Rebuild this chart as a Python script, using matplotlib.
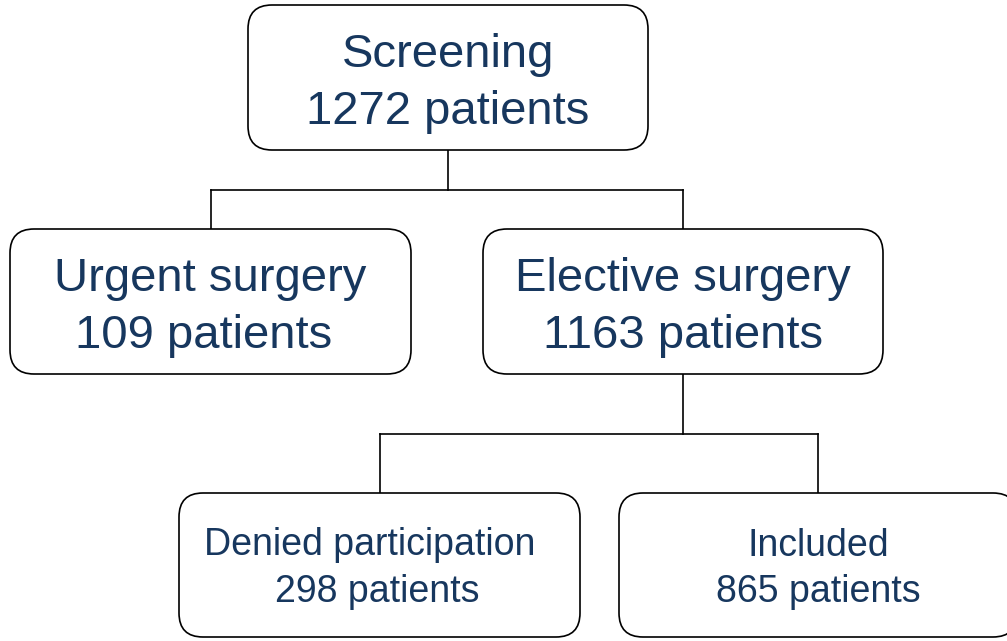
import matplotlib.pyplot as plt
from matplotlib.patches import FancyBboxPatch

plt.rcParams['font.family'] = ['Liberation Sans', 'DejaVu Sans']

# flowchart content
titles = ["Screening", "Urgent surgery", "Elective surgery", "Denied participation", "Included"]
counts = [1272, 109, 1163, 298, 865]
parents = [None, 0, 0, 2, 2]

# layout in pixel units (x0, y0, x1, y1), y down
boxes = [(248, 5, 648, 150), (10, 229, 411, 374), (483, 229, 883, 374),
         (179, 493, 580, 637), (619, 493, 1017, 637)]
fsize = [34, 34, 34, 27, 27]
base1 = [67, 291, 291, 555, 556]
base2 = [124, 348, 348, 602, 602]
dx1 = [0, 0, 0, -10, 0]
dx2 = [0, -7, 0, -2, 0]
txt_col = '#17375E'

fig = plt.figure(figsize=(10.07, 6.41), dpi=100)
ax = fig.add_axes([0, 0, 1, 1])
ax.set_xlim(0, 1007)
ax.set_ylim(641, 0)
ax.axis('off')

for i, (x0, y0, x1, y1) in enumerate(boxes):
    ax.add_patch(FancyBboxPatch((x0, y0), x1 - x0, y1 - y0,
                                boxstyle="round,pad=0,rounding_size=24",
                                fc='white', ec='black', lw=1.2, zorder=2))
    cx = (x0 + x1) / 2
    ax.text(cx + dx1[i], base1[i], titles[i], ha='center', va='baseline',
            fontsize=fsize[i], color=txt_col, zorder=3)
    ax.text(cx + dx2[i], base2[i], f"{counts[i]} patients", ha='center', va='baseline',
            fontsize=fsize[i], color=txt_col, zorder=3)

# connectors: parent bottom -> bar -> child tops
for p in set(q for q in parents if q is not None):
    kids = [i for i, q in enumerate(parents) if q == p]
    px0, py0, px1, py1 = boxes[p]
    ctop = boxes[kids[0]][1]
    mid = py1 + (ctop - py1) * 0.5
    pcx = (px0 + px1) / 2
    ax.plot([pcx, pcx], [py1, mid], color='black', lw=1.2, zorder=1)
    kx = [(boxes[k][0] + boxes[k][2]) / 2 for k in kids]
    ax.plot([min(kx), max(kx)], [mid, mid], color='black', lw=1.2, zorder=1)
    for x in kx:
        ax.plot([x, x], [mid, ctop], color='black', lw=1.2, zorder=1)

fig.savefig('out.png', dpi=100)
